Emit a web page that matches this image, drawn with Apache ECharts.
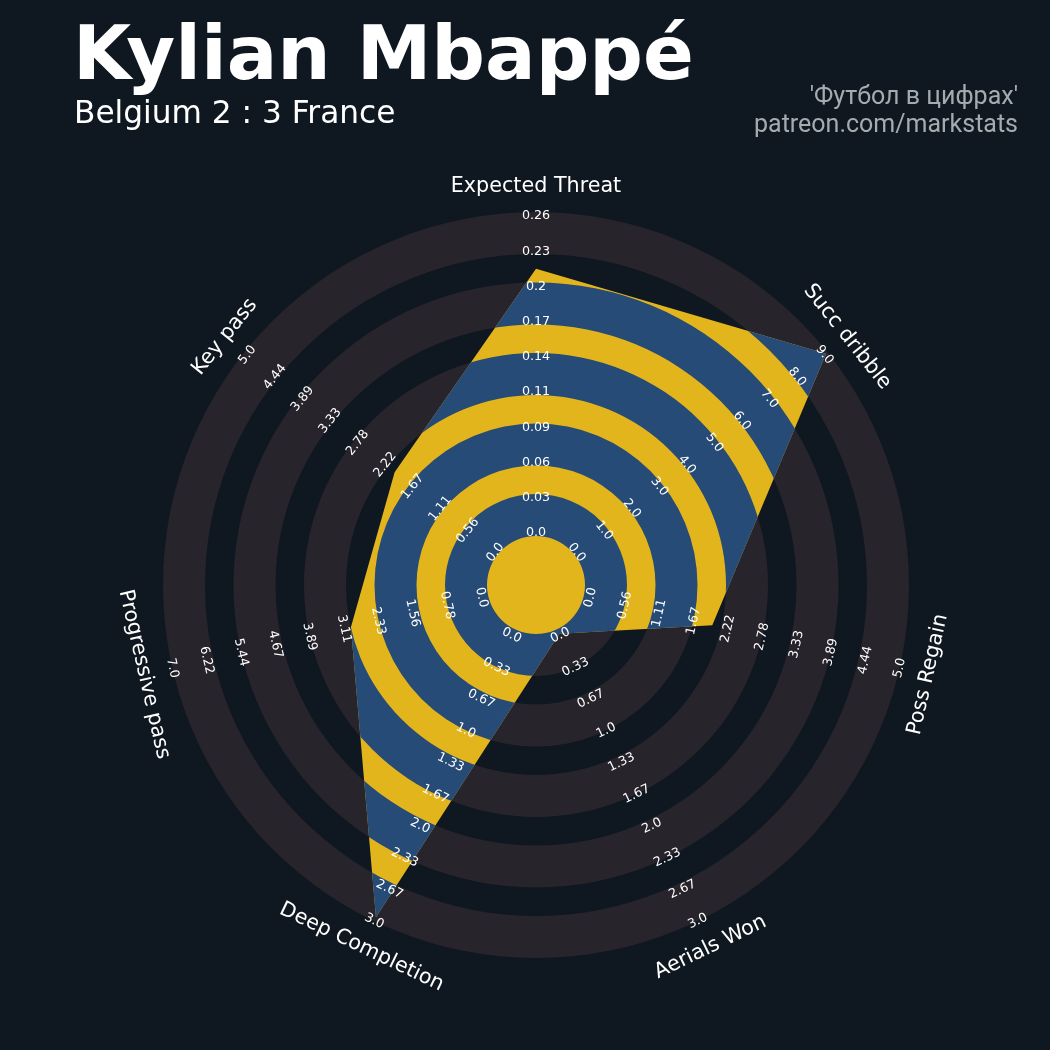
<!DOCTYPE html>
<html><head><meta charset="utf-8">
<script src="https://cdn.jsdelivr.net/npm/echarts/dist/echarts.min.js"></script>
<style>html,body{margin:0;padding:0;background:#0f1820}#c{width:1050px;height:1050px}</style>
</head><body><div id="c"></div>
<script>
// ---- data ----
const params = ['Expected Threat', 'Succ dribble', 'Poss Regain', 'Aerials Won', 'Deep Completion', 'Progressive pass', 'Key pass'];
const minRange = [0, 0, 0, 0, 0, 0, 0];
const maxRange = [0.26, 9.0, 5.0, 3.0, 3.0, 7.0, 5.0];
const values = [0.215, 9.0, 2.0, 0.0, 2.98, 3.0, 2.0];
const tickXT = ['0.0', '0.03', '0.06', '0.09', '0.11', '0.14', '0.17', '0.2', '0.23', '0.26'];
const tickDribble = ['0.0', '1.0', '2.0', '3.0', '4.0', '5.0', '6.0', '7.0', '8.0', '9.0'];
const tickRegain = ['0.0', '0.56', '1.11', '1.67', '2.22', '2.78', '3.33', '3.89', '4.44', '5.0'];
const tickAerial = ['0.0', '0.33', '0.67', '1.0', '1.33', '1.67', '2.0', '2.33', '2.67', '3.0'];
const tickDeep = ['0.0', '0.33', '0.67', '1.0', '1.33', '1.67', '2.0', '2.33', '2.67', '3.0'];
const tickProg = ['0.0', '0.78', '1.56', '2.33', '3.11', '3.89', '4.67', '5.44', '6.22', '7.0'];
const tickKey = ['0.0', '0.56', '1.11', '1.67', '2.22', '2.78', '3.33', '3.89', '4.44', '5.0'];
const tickLabels = [tickXT, tickDribble, tickRegain, tickAerial, tickDeep, tickProg, tickKey];
const titleText = 'Kylian Mbappé';
const subtitleText = 'Belgium 2 : 3 France';
const creditLines = ["'Футбол в цифрах'", 'patreon.com/markstats'];

// ---- layout / style ----
const C_BG = '#0f1820', C_RING = '#28242b', C_YEL = '#e3b51d', C_BLUE = '#264b77';
const N = params.length;
const R_MIN = 54, R_MAX = 371, R_LABEL = 400;
const ringBands = [[49, 91], [119.5, 161.5], [190, 232], [260.5, 302.5], [331, 373]];
const angleOf = i => i * 360 / N;
const toR = (i, v) => R_MIN + (v - minRange[i]) / (maxRange[i] - minRange[i]) * (R_MAX - R_MIN);
function rotFor(i) {
  let r = -i * 360 / N;
  r = ((r + 180) % 360 + 360) % 360 - 180;
  if (r > 90) r -= 180;
  if (r < -90) r += 180;
  return r * Math.PI / 180;
}
function pxR(api, r) {
  const c = api.coord([0, 0]);
  const q = api.coord([r, 0]);
  return Math.hypot(q[0] - c[0], q[1] - c[1]);
}

const chart = echarts.init(document.getElementById('c'), null, {renderer: 'canvas'});
chart.setOption({
  backgroundColor: C_BG,
  animation: false,
  polar: {center: [536, 585], radius: 420},
  angleAxis: {type: 'value', min: 0, max: 360, startAngle: 90, clockwise: true, show: false},
  radiusAxis: {type: 'value', min: 0, max: 420, show: false},
  graphic: [
    {type: 'text', x: 73, y: 60, style: {text: titleText, fill: '#ffffff', fontFamily: 'DejaVu Sans', fontWeight: 'bold', fontSize: 75, align: 'left', verticalAlign: 'middle'}},
    {type: 'text', x: 74, y: 115, style: {text: subtitleText, fill: '#ffffff', fontFamily: 'DejaVu Sans', fontSize: 31.2, align: 'left', verticalAlign: 'middle'}},
    {type: 'text', x: 1018, y: 98, style: {text: creditLines[0], fill: '#a6abb0', fontFamily: 'Roboto', fontSize: 25, align: 'right', verticalAlign: 'middle'}},
    {type: 'text', x: 1018, y: 126, style: {text: creditLines[1], fill: '#a6abb0', fontFamily: 'Roboto', fontSize: 25, align: 'right', verticalAlign: 'middle'}}
  ],
  series: [
    {
      type: 'custom', coordinateSystem: 'polar', clip: false, silent: true,
      data: ringBands.map((b, k) => [b[1], k]),
      renderItem: (p, api) => {
        const b = ringBands[p.dataIndex];
        const c = api.coord([0, 0]);
        return {type: 'ring', shape: {cx: c[0], cy: c[1], r: pxR(api, b[1]), r0: p.dataIndex === 0 ? 0 : pxR(api, b[0])}, style: {fill: C_RING}};
      }
    },
    {
      type: 'custom', coordinateSystem: 'polar', clip: false, silent: true,
      data: values.map((v, i) => [toR(i, v), angleOf(i)]),
      renderItem: (p, api) => {
        if (p.dataIndex !== 0) return null;
        const c = api.coord([0, 0]);
        const pts = values.map((v, i) => api.coord([toR(i, v), angleOf(i)]));
        const children = [{type: 'polygon', shape: {points: pts}, style: {fill: C_YEL}}];
        ringBands.forEach(b => {
          children.push({
            type: 'ring',
            shape: {cx: c[0], cy: c[1], r: pxR(api, b[1]), r0: pxR(api, b[0])},
            style: {fill: C_BLUE},
            clipPath: {type: 'polygon', shape: {points: pts}}
          });
        });
        return {type: 'group', children};
      }
    },
    {
      type: 'custom', coordinateSystem: 'polar', clip: false, silent: true,
      data: params.map((n, i) => [R_LABEL, angleOf(i)]),
      renderItem: (p, api) => {
        const i = p.dataIndex;
        const rot = rotFor(i);
        const children = [];
        tickLabels[i].forEach((t, k) => {
          const pt = api.coord([R_MIN + k * (R_MAX - R_MIN) / 9, angleOf(i)]);
          children.push({type: 'text', x: pt[0], y: pt[1], rotation: rot,
            style: {text: t, x: 0, y: 2, fill: '#ffffff', fontFamily: 'DejaVu Sans', fontSize: 12.7, align: 'center', verticalAlign: 'middle'}});
        });
        const lp = api.coord([R_LABEL, angleOf(i)]);
        children.push({type: 'text', x: lp[0], y: lp[1], rotation: rot,
          style: {text: params[i], x: 0, y: 2, fill: '#ffffff', fontFamily: 'DejaVu Sans', fontSize: 20.7, align: 'center', verticalAlign: 'middle'}});
        return {type: 'group', children};
      }
    }
  ]
});
</script>
</body></html>
